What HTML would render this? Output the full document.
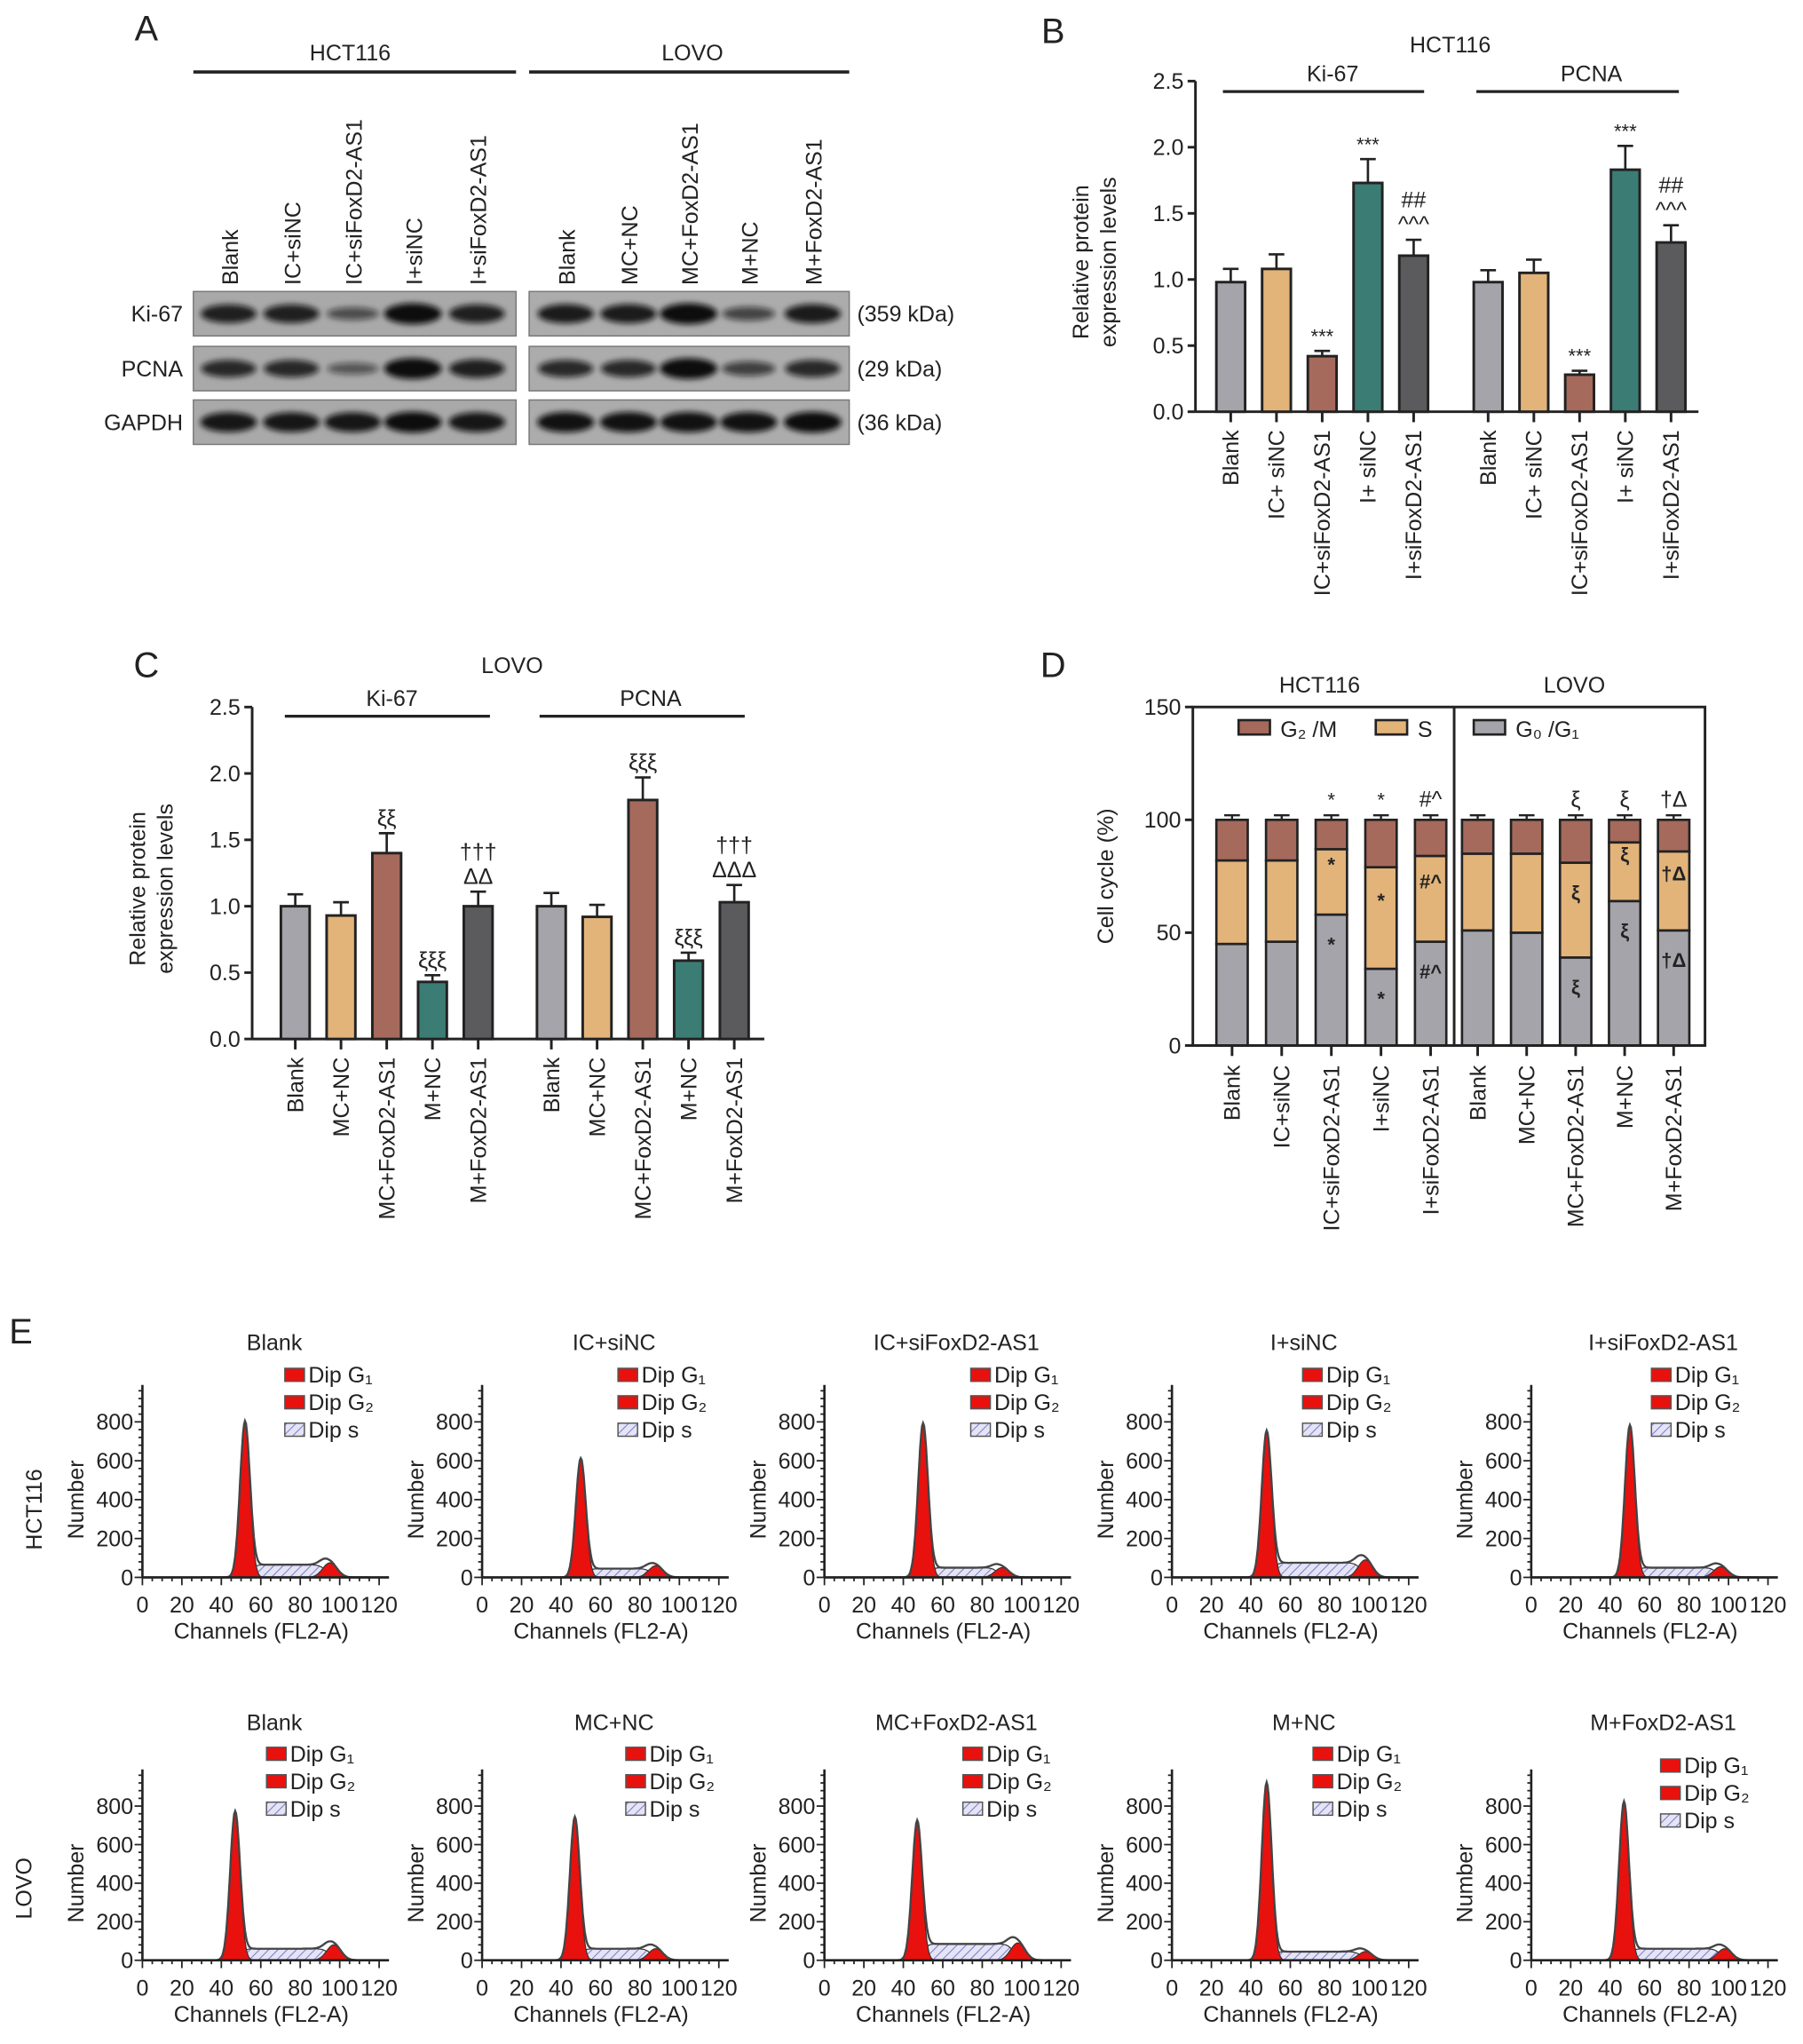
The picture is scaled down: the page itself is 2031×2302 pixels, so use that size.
<!DOCTYPE html>
<html><head><meta charset="utf-8">
<style>
html,body{margin:0;padding:0;background:#fff;}
svg{display:block;}
text{font-family:"Liberation Sans",Arial,sans-serif;fill:#222;}
</style></head>
<body>
<svg id="fig" xmlns="http://www.w3.org/2000/svg" width="2031" height="2302" viewBox="0 0 1380 1564">
<defs>
<filter id="blur" x="-30%" y="-60%" width="160%" height="220%"><feGaussianBlur stdDeviation="2.2"/></filter>
<pattern id="hatch" patternUnits="userSpaceOnUse" width="5" height="5" patternTransform="rotate(45)">
<rect width="5" height="5" fill="#e4e4f4"/><line x1="0" y1="0" x2="0" y2="5" stroke="#7b7bd0" stroke-width="1.4"/></pattern>
</defs>
</svg>
<script>
// ---------- data ----------
const bCats = ["Blank","IC+ siNC","IC+siFoxD2-AS1","I+ siNC","I+siFoxD2-AS1"];
const bKi = [0.98,1.08,0.42,1.73,1.18];
const bKiErr = [0.10,0.11,0.04,0.18,0.12];
const bPc = [0.98,1.05,0.28,1.83,1.28];
const bPcErr = [0.09,0.10,0.03,0.18,0.13];
const bKiAnn = [[],[],["***"],["***"],["^^^","##"]];
const bPcAnn = [[],[],["***"],["***"],["^^^","##"]];
const cCats = ["Blank","MC+NC","MC+FoxD2-AS1","M+NC","M+FoxD2-AS1"];
const cKi = [1.00,0.93,1.40,0.43,1.00];
const cKiErr = [0.09,0.10,0.15,0.05,0.11];
const cPc = [1.00,0.92,1.80,0.59,1.03];
const cPcErr = [0.10,0.09,0.17,0.06,0.13];
const cKiAnn = [[],[],["ξξ"],["ξξξ"],["ΔΔ","†††"]];
const cPcAnn = [[],[],["ξξξ"],["ξξξ"],["ΔΔΔ","†††"]];
const yTicks = ["0.0","0.5","1.0","1.5","2.0","2.5"];
const dCats = ["Blank","IC+siNC","IC+siFoxD2-AS1","I+siNC","I+siFoxD2-AS1","Blank","MC+NC","MC+FoxD2-AS1","M+NC","M+FoxD2-AS1"];
const dG1 = [45,46,58,34,46,51,50,39,64,51];
const dSTop = [82,82,87,79,84,85,85,81,90,86];
const dTopAnn = ["","","*","*","#^","","","ξ","ξ","†Δ"];
const dSAnn = ["","","*","*","#^","","","ξ","ξ","†Δ"];
const dGAnn = ["","","*","*","#^","","","ξ","ξ","†Δ"];
const dTicks = [0,50,100,150];
const colors = ["#a4a4aa","#e2b47a","#a56a5c","#3b7c74","#5b5b5d"];
// western blot band intensities
const wbLanes = ["Blank","IC+siNC","IC+siFoxD2-AS1","I+siNC","I+siFoxD2-AS1","Blank","MC+NC","MC+FoxD2-AS1","M+NC","M+FoxD2-AS1"];
const wbKi = [0.8,0.8,0.3,1.0,0.8,0.85,0.85,1.0,0.4,0.85];
const wbPc = [0.7,0.7,0.2,1.0,0.8,0.7,0.7,1.0,0.45,0.7];
const wbGa = [0.9,0.9,0.9,1.0,0.9,0.95,0.95,0.95,0.95,1.0];
// flow histograms
const eTitles1 = ["Blank","IC+siNC","IC+siFoxD2-AS1","I+siNC","I+siFoxD2-AS1"];
const eTitles2 = ["Blank","MC+NC","MC+FoxD2-AS1","M+NC","M+FoxD2-AS1"];
const g1Peak1 = [800,610,790,750,780];
const g1Pos1 = [52,50,50,48,50];
const sLvl1 = [65,45,50,75,50];
const g2Peak1 = [75,60,50,90,55];
const g2Pos1 = [95,88,90,98,96];
const g1Peak2 = [770,740,720,920,820];
const g1Pos2 = [47,47,47,48,47];
const sLvl2 = [60,60,85,45,60];
const g2Peak2 = [80,60,90,45,60];
const g2Pos2 = [97,88,98,98,98];
const eYTicks = [0,200,400,600,800];
const eXTicks = [0,20,40,60,80,100,120];

// ---------- helpers ----------
const svg = document.getElementById('fig');
const NS = "http://www.w3.org/2000/svg";
function el(tag, attrs, name, parent){
  const e = document.createElementNS(NS, tag);
  for (const k in attrs) e.setAttribute(k, attrs[k]);
  
  
  (parent||svg).appendChild(e);
  return e;
}
function txt(x,y,s,size,name,opt){
  opt = opt||{};
  const t = el('text',{x:x,y:y,'font-size':size,'text-anchor':opt.anchor||'middle',fill:opt.fill||'#222'},name,opt.parent);
  if (opt.rot) t.setAttribute('transform','rotate('+opt.rot+' '+x+' '+y+')');
  if (opt.weight) t.setAttribute('font-weight',opt.weight);
  t.textContent = s;
  return t;
}
function line(x1,y1,x2,y2,w,name,col,parent){
  return el('line',{x1:x1,y1:y1,x2:x2,y2:y2,stroke:col||'#222','stroke-width':w},name,parent);
}

// ---------- Panel A ----------
txt(112,31,"A",27,'panel-a-label');
txt(268,46,"HCT116",17,'wb-hct116-title');
line(148,55,395,55,2.5,'wb-hct116-line');
txt(530,46,"LOVO",17,'wb-lovo-title');
line(405,55,650,55,2.5,'wb-lovo-line');
const laneX = [175,223,270,316,365,433,481,527,573,622];
wbLanes.forEach((l,i)=>{ txt(laneX[i]+7,218,l,17,'wb-lane-label',{anchor:'start',rot:-90}); });
const rows = [["Ki-67",223,wbKi,"(359 kDa)"],["PCNA",265,wbPc,"(29 kDa)"],["GAPDH",306,wbGa,"(36 kDa)"]];
rows.forEach(r=>{
  el('rect',{x:148,y:r[1],width:247,height:34,fill:'#a9a9a9',stroke:'#777','stroke-width':1},'wb-box-hct116');
  el('rect',{x:405,y:r[1],width:245,height:34,fill:'#acacac',stroke:'#777','stroke-width':1},'wb-box-lovo');
  txt(140,r[1]+23,r[0],17,'wb-row-label',{anchor:'end'});
  txt(656,r[1]+23,r[3],17,'wb-kda-label',{anchor:'start'});
  r[2].forEach((v,i)=>{
    el('ellipse',{cx:laneX[i],cy:r[1]+17,rx:19+3*v,ry:3.5+4.5*v,fill:'#111','fill-opacity':0.45+0.55*v,filter:'url(#blur)'},'wb-band');
  });
});

// ---------- bar chart helper ----------
function barPanel(cfg){
  const Y = v => cfg.y0 - v*cfg.k;
  line(cfg.ax, Y(0), cfg.ax, Y(2.5), 2, cfg.p+'-y-axis');
  line(cfg.ax, Y(0), cfg.axEnd, Y(0), 2, cfg.p+'-x-axis');
  yTicks.forEach(t=>{
    const v=parseFloat(t);
    line(cfg.ax-6,Y(v),cfg.ax,Y(v),2,cfg.p+'-y-tick');
    txt(cfg.ax-9,Y(v)+6,t,17,cfg.p+'-y-tick-label',{anchor:'end'});
  });
  txt(cfg.ax-82,(Y(0)+Y(2.5))/2+12,"Relative protein",17,cfg.p+'-y-title',{rot:-90});
  txt(cfg.ax-61,(Y(0)+Y(2.5))/2+12,"expression levels",17,cfg.p+'-y-title',{rot:-90});
  [[cfg.g1,cfg.s1,cfg.e1,cfg.a1],[cfg.g2,cfg.s2,cfg.e2,cfg.a2]].forEach(g=>{
    g[1].forEach((v,i)=>{
      const cx = g[0]+i*35, w=22;
      const ytop = Y(v), yerr = Y(v+g[2][i]);
      line(cx,ytop,cx,yerr,1.8,cfg.p+'-error-bar');
      line(cx-6,yerr,cx+6,yerr,1.8,cfg.p+'-error-cap');
      el('rect',{x:cx-w/2,y:ytop,width:w,height:Y(0)-ytop,fill:colors[i],stroke:'#222','stroke-width':2},cfg.p+'-bar');
      line(cx,Y(0),cx,Y(0)+8,2,cfg.p+'-x-tick');
      txt(cx+6,Y(0)+14,cfg.cats[i],17,cfg.p+'-x-tick-label',{anchor:'end',rot:-90});
      g[3][i].forEach((a,j)=>{
        txt(cx,yerr-6-j*19,a,a.indexOf('*')>=0?15:17,cfg.p+'-significance');
      });
    });
  });
}
// ---------- Panel B ----------
txt(806,33,"B",27,'panel-b-label');
txt(1110,40,"HCT116",17,'b-title');
txt(1020,62,"Ki-67",17,'b-ki67-label'); line(936,70,1090,70,2.2,'b-ki67-line');
txt(1218,62,"PCNA",17,'b-pcna-label'); line(1130,70,1285,70,2.2,'b-pcna-line');
barPanel({p:'b',ax:915,axEnd:1300,y0:315,k:101.2,cats:bCats,g1:942,g2:1139,s1:bKi,e1:bKiErr,a1:bKiAnn,s2:bPc,e2:bPcErr,a2:bPcAnn});
// ---------- Panel C ----------
txt(112,518,"C",27,'panel-c-label');
txt(392,515,"LOVO",17,'c-title');
txt(300,540,"Ki-67",17,'c-ki67-label'); line(218,548,375,548,2.2,'c-ki67-line');
txt(498,540,"PCNA",17,'c-pcna-label'); line(413,548,570,548,2.2,'c-pcna-line');
barPanel({p:'c',ax:193,axEnd:585,y0:795,k:101.6,cats:cCats,g1:226,g2:422,s1:cKi,e1:cKiErr,a1:cKiAnn,s2:cPc,e2:cPcErr,a2:cPcAnn});

// ---------- Panel D ----------
txt(806,518,"D",27,'panel-d-label');
const YD = v => 800 - v*1.727;
const XD = i => i<5 ? 943+i*38 : 1131+(i-5)*37.5;
txt(1010,530,"HCT116",17,'d-hct116-title');
txt(1205,530,"LOVO",17,'d-lovo-title');
dCats.forEach((c,i)=>{
  const cx=XD(i), w=24;
  const segs=[[0,dG1[i],'#a4a4aa'],[dG1[i],dSTop[i],'#e2b47a'],[dSTop[i],100,'#a56a5c']];
  segs.forEach((s,j)=>{
    const e=[4,4,2][j];
    line(cx,YD(s[1]),cx,YD(s[1]+e),1.6,'d-error-bar');
    line(cx-6,YD(s[1]+e),cx+6,YD(s[1]+e),1.6,'d-error-cap');
  });
  segs.forEach(s=>{
    el('rect',{x:cx-w/2,y:YD(s[1]),width:w,height:YD(s[0])-YD(s[1]),fill:s[2],stroke:'#222','stroke-width':1.8},'d-bar-segment');
  });
  line(cx,YD(0),cx,YD(0)+8,2,'d-x-tick');
  txt(cx+6,815,c,17,'d-x-tick-label',{anchor:'end',rot:-90});
  if(dTopAnn[i]) txt(cx,YD(100)-10,dTopAnn[i],dTopAnn[i]==='*'?15:17,'d-significance');
  if(dSAnn[i]) txt(cx,(YD(dSTop[i])+YD(dG1[i]))/2-8,dSAnn[i],15,'d-significance',{weight:'bold'});
  if(dGAnn[i]) txt(cx,YD(dG1[i])+28,dGAnn[i],15,'d-significance',{weight:'bold'});
});
el('rect',{x:913,y:YD(150),width:392,height:YD(0)-YD(150),fill:'none',stroke:'#222','stroke-width':2},'d-frame');
line(1113,YD(150),1113,YD(0),2,'d-divider');
dTicks.forEach(t=>{ line(907,YD(t),913,YD(t),2,'d-y-tick'); txt(904,YD(t)+6,String(t),17,'d-y-tick-label',{anchor:'end'}); });
txt(852,YD(75),"Cell cycle (%)",17,'d-y-title',{rot:-90});
[[948,'#a56a5c','G₂ /M'],[1053,'#e2b47a','S'],[1128,'#a4a4aa','G₀ /G₁']].forEach(l=>{
  el('rect',{x:l[0],y:551,width:24,height:11,fill:l[1],stroke:'#222','stroke-width':1.8},'d-legend-swatch');
  txt(l[0]+32,564,l[2],17,'d-legend-label',{anchor:'start'});
});

// ---------- Panel E ----------
txt(16,1028,"E",27,'panel-e-label');
txt(32,1155,"HCT116",17,'e-row-hct116',{rot:-90});
txt(24,1445,"LOVO",17,'e-row-lovo',{rot:-90});
const eX0 = [109,369,631,897,1172];
const legX1 = [218,473,743,997,1264], legY1=[1056,1056,1056,1056,1056];
const legX2 = [204,479,737,1005,1271], legY2=[1346,1346,1346,1346,1355];
function gauss(x,m,s){return Math.exp(-0.5*((x-m)/s)*((x-m)/s));}
function hist(x0,base,k,title,legX,legY,h1,m1,sl,h2,m2,titleY){
  const X = c => x0 + c*1.51;
  const Y = v => base - v*k;
  txt(x0+101,titleY,title,17,'e-hist-title');
  const g1=[],g2=[],sp=[],tot=[];
  for(let c=30;c<=115;c+=0.5){
    const a=h1*gauss(c,m1,2.5);
    const b=h2*gauss(c,m2,3.6);
    const s=sl/(1+Math.exp(-(c-m1-3)/1.2))/(1+Math.exp((c-m2+2)/1.5));
    g1.push([X(c),Y(a)]); g2.push([X(c),Y(b)]); sp.push([X(c),Y(s)]); tot.push([X(c),Y(a+b+s)]);
  }
  const poly = pts => 'M'+X(30)+','+base+' '+pts.map(p=>'L'+p[0].toFixed(1)+','+p[1].toFixed(1)).join(' ')+' L'+X(115)+','+base+'Z';
  el('path',{d:poly(sp),fill:'url(#hatch)',stroke:'#333','stroke-width':0.8},'e-dip-s-area');
  el('path',{d:poly(g1),fill:'#e8110e',stroke:'#333','stroke-width':0.8},'e-dip-g1-area');
  el('path',{d:poly(g2),fill:'#e8110e',stroke:'#333','stroke-width':0.8},'e-dip-g2-area');
  el('path',{d:'M'+tot.map(p=>p[0].toFixed(1)+','+p[1].toFixed(1)).join(' L'),fill:'none',stroke:'#444','stroke-width':1.6},'e-total-curve');
  line(x0,base,x0,Y(990),1.8,'e-y-axis');
  line(x0,base,X(125),base,1.8,'e-x-axis');
  for(let c=0;c<=120;c+=5) line(X(c),base,X(c),base+(c%20===0?6:3),1.2,'e-x-minor-tick');
  for(let v=0;v<=990;v+=40) line(x0-(v%200===0?6:3),Y(v),x0,Y(v),1.2,'e-y-minor-tick');
  eYTicks.forEach(v=>txt(x0-7,Y(v)+6,String(v),17,'e-y-tick-label',{anchor:'end'}));
  eXTicks.forEach(c=>txt(X(c),base+27,String(c),17,'e-x-tick-label'));
  txt(x0+91,base+47,"Channels (FL2-A)",17,'e-x-title');
  txt(x0-45,Y(400),"Number",17,'e-y-title',{rot:-90});
  [['#e8110e','Dip G₁'],['#e8110e','Dip G₂'],['url(#hatch)','Dip s']].forEach((l,j)=>{
    el('rect',{x:legX,y:legY-9+j*21,width:15,height:10,fill:l[0],stroke:'#555','stroke-width':1},'e-legend-swatch');
    txt(legX+18,legY+j*21+2,l[1],17,'e-legend-label',{anchor:'start',fill:'#3c3cd8'});
  });
}
for(let i=0;i<5;i++){
  hist(eX0[i],1207,0.14875,eTitles1[i],legX1[i],legY1[i],g1Peak1[i],g1Pos1[i],sLvl1[i],g2Peak1[i],g2Pos1[i],1033);
  hist(eX0[i],1500,0.1475,eTitles2[i],legX2[i],legY2[i],g1Peak2[i],g1Pos2[i],sLvl2[i],g2Peak2[i],g2Pos2[i],1324);
}
</script>
</body></html>
